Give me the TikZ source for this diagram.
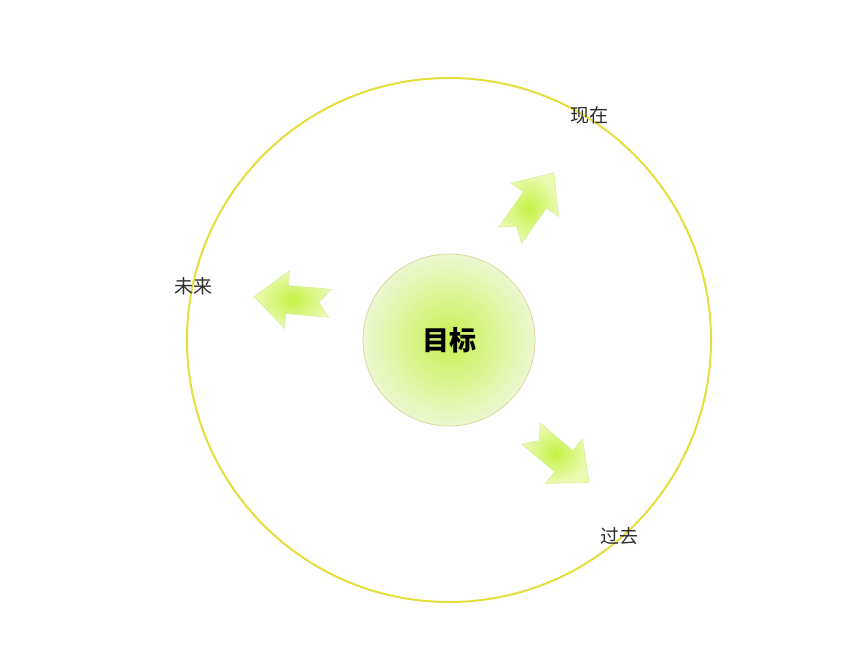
\documentclass[tikz,border=0pt]{standalone}
\usepackage{fontspec}
\setmainfont{Noto Sans CJK SC}
\usepackage{tikz}
\usetikzlibrary{positioning}

\definecolor{orbit}{RGB}{230,222,60}
\definecolor{rimtan}{RGB}{222,214,160}
\definecolor{limecore}{RGB}{200,240,80}
\definecolor{limepale}{RGB}{236,248,208}
\definecolor{arrowpale}{RGB}{236,250,180}
\definecolor{arrowcore}{RGB}{196,242,70}
\definecolor{arrowrim}{RGB}{218,238,150}
\definecolor{labelgray}{RGB}{45,45,45}

\tikzstyle{orbitring} = [draw=orbit, line width=2pt, circle, minimum size=524pt, inner sep=0pt]
\tikzstyle{goalball} = [draw=rimtan, line width=0.8pt, circle, minimum size=172pt, inner sep=0pt,
  inner color=limecore, outer color=limepale, font=\fontsize{27}{29}\selectfont\bfseries]
\tikzstyle{timelabel} = [text=labelgray, font=\fontsize{19}{21}\selectfont, inner sep=1pt]
\tikzstyle{arrowbody} = [draw=arrowrim, line width=0.6pt, inner color=arrowcore, outer color=arrowpale]

% notched block arrow: x, y, angle
\newcommand{\timearrow}[3]{%
\begin{scope}[shift={(#1,#2)}, rotate=#3]
\shade[arrowbody] (-38,-14) -- (5,-14) -- (5,-29) -- (38,0) -- (5,29) -- (5,14)
  -- (-38,14) -- (-27,0) -- cycle;
\end{scope}}

\begin{document}
\begin{tikzpicture}[x=1pt, y=1pt]
\useasboundingbox (0,0) rectangle (850,654);
\fill[white] (0,0) rectangle (850,654);

\node[orbitring] (orbit) at (449,314) {};
\node[goalball] (goal) at (449,314) {目标};

\node[timelabel] (now) at (589,539) {现在};
\node[timelabel] (future) at (193,368) {未来};
\node[timelabel] (past) at (619,118) {过去};

% arrows pointing outward
\timearrow{532}{450}{55}
\timearrow{292}{354}{175}
\timearrow{560}{196}{-40}
\end{tikzpicture}
\end{document}
